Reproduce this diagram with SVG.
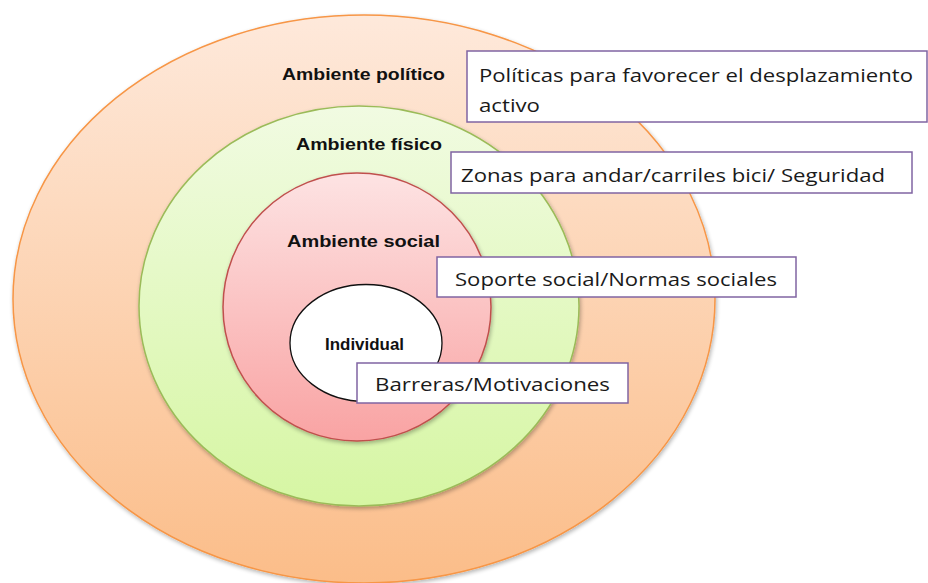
<svg xmlns="http://www.w3.org/2000/svg" width="928" height="583" viewBox="0 0 928 583">
<defs>
<linearGradient id="gOrange" x1="0" y1="0" x2="0" y2="1"><stop offset="0" stop-color="#fee9db"/><stop offset="1" stop-color="#fbbd89"/></linearGradient>
<linearGradient id="gGreen" x1="0" y1="0" x2="0" y2="1"><stop offset="0" stop-color="#f1fbe2"/><stop offset="1" stop-color="#d6f6a3"/></linearGradient>
<linearGradient id="gRed" x1="0" y1="0" x2="0" y2="1"><stop offset="0" stop-color="#fde3e3"/><stop offset="1" stop-color="#f9a3a3"/></linearGradient>
<filter id="sh" x="-10%" y="-10%" width="120%" height="120%"><feGaussianBlur in="SourceAlpha" stdDeviation="2"/><feOffset dx="1" dy="2"/><feComponentTransfer><feFuncA type="linear" slope="0.3"/></feComponentTransfer><feMerge><feMergeNode/><feMergeNode in="SourceGraphic"/></feMerge></filter>
</defs>
<style>
.lbl{font-family:"Liberation Sans",Arial,sans-serif;font-weight:bold;font-size:16px;fill:#111;}
.box{fill:#fff;stroke:#8064a2;stroke-width:1.5;}
.bt{font-family:"Open Sans","Liberation Sans",sans-serif;font-size:19px;fill:#1a1a1a;}
</style>
<rect width="928" height="583" fill="#fff"/>
<g id="politico">
<ellipse cx="364" cy="299" rx="351" ry="284" fill="url(#gOrange)" stroke="#f79646" stroke-width="1.5" filter="url(#sh)"/>
<text class="lbl" x="282" y="80" textLength="163" lengthAdjust="spacingAndGlyphs">Ambiente político</text>
</g>
<g id="fisico">
<ellipse cx="359" cy="306" rx="220" ry="200" fill="url(#gGreen)" stroke="#9bbb59" stroke-width="1.5" filter="url(#sh)"/>
<text class="lbl" x="296" y="150" textLength="146" lengthAdjust="spacingAndGlyphs">Ambiente físico</text>
</g>
<g id="social">
<ellipse cx="357" cy="307" rx="134" ry="134" fill="url(#gRed)" stroke="#c0504d" stroke-width="1.5" filter="url(#sh)"/>
<text class="lbl" x="287" y="247" textLength="153" lengthAdjust="spacingAndGlyphs">Ambiente social</text>
</g>
<g id="individual">
<ellipse cx="366" cy="343" rx="76" ry="58.5" fill="#fff" stroke="#111" stroke-width="1.3"/>
<text class="lbl" x="325" y="350" font-size="13" textLength="79" lengthAdjust="spacingAndGlyphs">Individual</text>
</g>
<g id="box-politicas">
<rect class="box" x="467" y="51" width="460" height="71"/>
<text class="bt" x="479" y="82" textLength="434" lengthAdjust="spacingAndGlyphs">Políticas para favorecer el desplazamiento</text>
<text class="bt" x="479" y="112" textLength="61" lengthAdjust="spacingAndGlyphs">activo</text>
</g>
<g id="box-zonas">
<rect class="box" x="451" y="152" width="461" height="41"/>
<text class="bt" x="461" y="182" textLength="424" lengthAdjust="spacingAndGlyphs">Zonas para andar/carriles bici/ Seguridad</text>
</g>
<g id="box-soporte">
<rect class="box" x="437" y="257" width="359" height="40"/>
<text class="bt" x="455" y="286" textLength="322" lengthAdjust="spacingAndGlyphs">Soporte social/Normas sociales</text>
</g>
<g id="box-barreras">
<rect class="box" x="357" y="363" width="271" height="40"/>
<text class="bt" x="375" y="391" textLength="235" lengthAdjust="spacingAndGlyphs">Barreras/Motivaciones</text>
</g>
<g id="connectors"/>
</svg>
